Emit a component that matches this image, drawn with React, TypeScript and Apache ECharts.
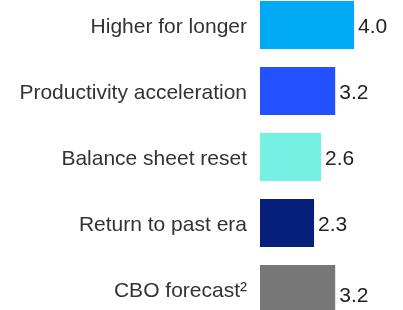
import React, { useEffect, useRef } from "react";
import * as echarts from "echarts";

const categories = [
  "Higher for longer",
  "Productivity acceleration",
  "Balance sheet reset",
  "Return to past era",
  "CBO forecast²",
];
const values = [4.0, 3.2, 2.6, 2.3, 3.2];
const colors = ["#00AAF4", "#2251FF", "#76F0E3", "#061F7A", "#777777"];

export default function App() {
  const ref = useRef<HTMLDivElement>(null);
  useEffect(() => {
    const chart = echarts.init(ref.current!, null, { renderer: "svg" });
    chart.setOption({
      animation: false,
      grid: { left: 260, top: 12, width: 94, height: 330, containLabel: false },
      xAxis: { type: "value", min: 0, max: 4, show: false },
      yAxis: {
        type: "category",
        data: categories,
        inverse: true,
        axisLine: { show: false },
        axisTick: { show: false },
        axisLabel: {
          margin: 13,
          fontSize: 21,
          color: "#333333",
          fontFamily: "Liberation Sans, Arial, sans-serif",
        },
      },
      series: [
        {
          type: "bar",
          barWidth: 48,
          data: values.map((v, i) => ({
            value: v,
            itemStyle: { color: colors[i] },
            label: i === 4 ? { offset: [0, 5] } : undefined,
          })),
          label: {
            show: true,
            position: "right",
            distance: 4,
            fontSize: 21,
            color: "#222222",
            fontFamily: "Liberation Sans, Arial, sans-serif",
            formatter: (p: any) => p.value.toFixed(1),
          },
        },
      ],
    });
    return () => chart.dispose();
  }, []);
  return (
    <div style={{ position: "fixed", left: 0, top: 0, width: 403, height: 310, overflow: "hidden" }}>
      <div
        ref={ref}
        style={{ position: "absolute", left: 0, top: -20, width: 403, height: 360 }}
      />
    </div>
  );
}
